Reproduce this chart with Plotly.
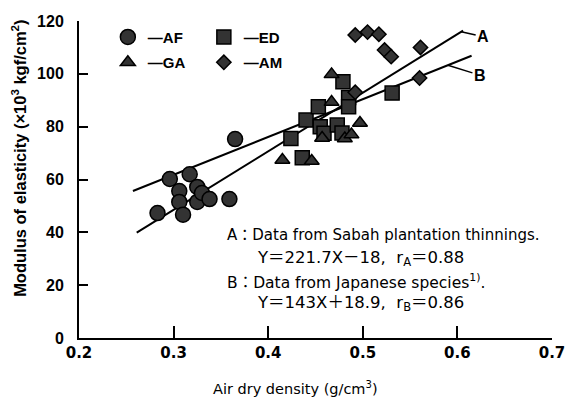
import plotly.graph_objects as go

# ---------------- data ----------------
af_x = [0.283, 0.296, 0.306, 0.306, 0.310, 0.317, 0.325, 0.325, 0.330, 0.338, 0.359, 0.365]
af_y = [47.3, 60.2, 55.6, 51.5, 46.7, 62.0, 57.2, 51.5, 54.9, 52.6, 52.6, 75.3]

ga_x = [0.415, 0.446, 0.457, 0.467, 0.467, 0.481, 0.488, 0.497]
ga_y = [67.4, 67.0, 75.7, 89.3, 99.8, 75.5, 77.0, 81.4]

ed_x = [0.424, 0.436, 0.440, 0.453, 0.455, 0.459, 0.473, 0.478, 0.479, 0.485, 0.485, 0.531]
ed_y = [75.5, 68.2, 82.5, 87.5, 80.0, 77.5, 80.6, 77.6, 97.0, 91.0, 87.5, 92.7]

am_x = [0.492, 0.492, 0.505, 0.517, 0.523, 0.530, 0.560, 0.561]
am_y = [93.0, 114.7, 115.8, 115.0, 109.0, 106.5, 98.4, 110.0]

# regression lines: slope, intercept, x-extent
line_a = {"slope": 221.7, "intercept": -18.0, "x": [0.261, 0.606]}
line_b = {"slope": 143.0, "intercept": 18.9, "x": [0.257, 0.615]}

x_ticks = [0.2, 0.3, 0.4, 0.5, 0.6, 0.7]
y_ticks = [0, 20, 40, 60, 80, 100, 120]

FONT = "Liberation Sans, Arial, sans-serif"
WIDE = "DejaVu Sans, Noto Sans CJK JP, sans-serif"
FILL = "#333333"

fig = go.Figure()

def line_y(line, xs):
    return [line["slope"] * v + line["intercept"] for v in xs]

for ln in (line_a, line_b):
    fig.add_trace(go.Scatter(x=ln["x"], y=line_y(ln, ln["x"]), mode="lines",
                             line=dict(color="black", width=2), showlegend=False,
                             hoverinfo="skip"))

def mk(symbol, size):
    return dict(symbol=symbol, size=size, color=FILL, line=dict(color="black", width=1.5))

fig.add_trace(go.Scatter(x=af_x, y=af_y, mode="markers", name="—AF",
                         marker=mk("circle", 15), legend="legend"))
fig.add_trace(go.Scatter(x=ed_x, y=ed_y, mode="markers", name="—ED",
                         marker=mk("square", 14), legend="legend"))
fig.add_trace(go.Scatter(x=ga_x, y=ga_y, mode="markers", name="—GA",
                         marker=mk("triangle-up", 13), legend="legend2"))
fig.add_trace(go.Scatter(x=am_x, y=am_y, mode="markers", name="—AM",
                         marker=mk("diamond", 11), legend="legend2"))

legend_common = dict(orientation="h", bgcolor="rgba(0,0,0,0)", borderwidth=0,
                     font=dict(family=FONT, size=15, color="black", weight="bold"),
                     entrywidth=51, xanchor="left", yanchor="top", itemclick=False)

annotations = []
# Line labels with leaders
xa = 0.604
annotations.append(dict(x=xa, y=line_a["slope"] * xa + line_a["intercept"], xref="x", yref="y",
                        text="A", showarrow=True, arrowhead=0, arrowwidth=1.5, arrowcolor="black",
                        ax=22, ay=5, font=dict(family=FONT, size=16, color="black", weight="bold")))
xb = 0.590
annotations.append(dict(x=xb, y=line_b["slope"] * xb + line_b["intercept"], xref="x", yref="y",
                        text="B", showarrow=True, arrowhead=0, arrowwidth=1.5, arrowcolor="black",
                        ax=32, ay=10, font=dict(family=FONT, size=16, color="black", weight="bold")))

sent_font = dict(family=WIDE, size=15, color="black")
eq_font = dict(family=WIDE, size=16.5, color="black")
annotations += [
    dict(x=0.308, y=0.325, xref="paper", yref="paper", xanchor="left", yanchor="middle",
         text="A：Data from Sabah plantation thinnings.", showarrow=False, font=sent_font),
    dict(x=0.373, y=0.252, xref="paper", yref="paper", xanchor="left", yanchor="middle",
         text="Y＝221.7X－18,&nbsp; r<sub>A</sub>＝0.88", showarrow=False, font=eq_font),
    dict(x=0.308, y=0.177, xref="paper", yref="paper", xanchor="left", yanchor="middle",
         text="B：Data from Japanese species<sup>1)</sup>.", showarrow=False,
         font=dict(family=WIDE, size=15.5, color="black")),
    dict(x=0.373, y=0.110, xref="paper", yref="paper", xanchor="left", yanchor="middle",
         text="Y＝143X＋18.9,&nbsp; r<sub>B</sub>＝0.86", showarrow=False, font=eq_font),
    dict(x=-0.127, y=0.568, xref="paper", yref="paper", textangle=-90,
         xanchor="center", yanchor="middle",
         text="Modulus of elasticity (×10<sup>3</sup> kgf/cm<sup>2</sup>)", showarrow=False,
         font=dict(family=FONT, size=16.5, color="black", weight="bold")),
    dict(x=0.457, y=-0.158, xref="paper", yref="paper", xanchor="center", yanchor="middle",
         text="Air dry density (g/cm<sup>3</sup>)", showarrow=False,
         font=dict(family=WIDE, size=14.5, color="black")),
]

fig.update_layout(
    width=567, height=400,
    margin=dict(l=79, r=15, t=21, b=62, autoexpand=False),
    paper_bgcolor="white", plot_bgcolor="white",
    showlegend=True,
    legend=dict(x=0.061, y=1.001, **legend_common),
    legend2=dict(x=0.061, y=0.921, **legend_common),
    annotations=annotations,
    xaxis=dict(range=[0.2, 0.7], tickvals=x_ticks, ticktext=[f"{v:.1f}" for v in x_ticks],
               showline=True, linecolor="black", linewidth=2, ticks="inside", ticklen=12,
               tickwidth=2, tickcolor="black", showgrid=False, zeroline=False, automargin=False,
               tickfont=dict(family="DejaVu Sans, sans-serif", size=15, color="black", weight="bold")),
    yaxis=dict(range=[0, 120], tickvals=y_ticks, showline=True, linecolor="black", linewidth=2,
               ticks="inside", ticklen=9, tickwidth=2, tickcolor="black", showgrid=False,
               zeroline=False, automargin=False, ticklabelstandoff=10,
               tickfont=dict(family=FONT, size=16, color="black", weight="bold")),
)

fig.write_html("out.html", config={"displayModeBar": False},
               post_script="document.body.style.margin='0px';document.body.style.overflow='hidden';")
